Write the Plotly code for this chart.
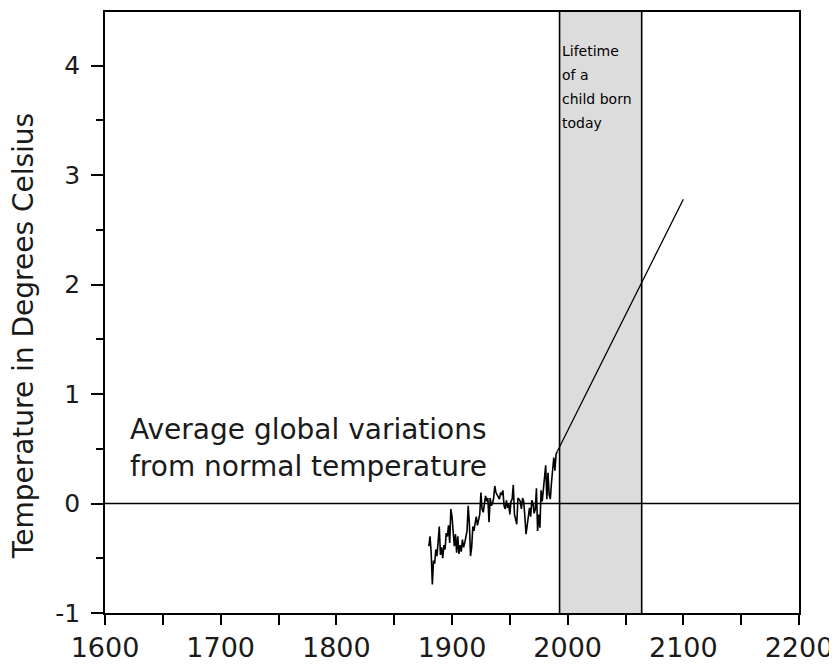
import plotly.graph_objects as go

years = list(range(1880, 1992))
temps = [
    -0.39, -0.30, -0.45, -0.74, -0.52, -0.55, -0.42, -0.48, -0.35, -0.21,
    -0.47, -0.40, -0.50, -0.38, -0.42, -0.27, -0.30, -0.20, -0.36, -0.05,
    -0.12, -0.25, -0.39, -0.28, -0.45, -0.30, -0.46, -0.38, -0.44, -0.33,
    -0.40, -0.36, -0.30, -0.25, -0.02, -0.18, -0.48, -0.40, -0.21, -0.25,
    -0.18, -0.12, -0.20, -0.14, -0.10, 0.10, -0.05, -0.08, -0.02, 0.07,
    0.02, 0.05, -0.17, 0.05, -0.02, 0.00, 0.05, 0.16, 0.10, 0.08,
    0.05, 0.04, 0.10, 0.08, 0.12, -0.02, -0.05, 0.03, -0.04, 0.00,
    -0.10, 0.02, 0.04, 0.17, -0.10, -0.15, -0.19, 0.05, 0.04, 0.02,
    -0.05, 0.05, 0.02, -0.12, -0.28, -0.20, -0.10, -0.04, -0.12, 0.03,
    0.00, -0.09, -0.05, 0.14, -0.25, -0.10, -0.22, 0.12, 0.02, 0.14,
    0.20, 0.35, 0.04, 0.28, 0.08, 0.04, 0.19, 0.32, 0.42, 0.30,
    0.45, 0.475,
]

proj_years = [1991, 2100]
proj_temps = [0.475, 2.78]

lifetime = [1993, 2064]

x_ticks = [1600, 1700, 1800, 1900, 2000, 2100, 2200]
x_labels = ["1600", "1700", "1800", "1900", "2000", "2100", "2200"]
y_ticks = [-1, 0, 1, 2, 3, 4]
y_labels = ["-1", "0", "1", "2", "3", "4"]

lifetime_lines = ["Lifetime", "of a", "child born", "today"]
note_lines = ["Average global variations", "from normal temperature"]
y_title = "Temperature in Degrees Celsius"

FONT = "DejaVu Sans, sans-serif"
TXT = "#1a1a1a"

fig = go.Figure()
fig.add_trace(go.Scatter(x=years, y=temps, mode="lines",
                         line=dict(color="black", width=1.6), showlegend=False))
fig.add_trace(go.Scatter(x=proj_years, y=proj_temps, mode="lines",
                         line=dict(color="black", width=1.3), showlegend=False))

shapes = [
    dict(type="rect", xref="x", yref="paper", x0=lifetime[0], x1=lifetime[1],
         y0=0, y1=1, fillcolor="#dcdcdc", line=dict(width=0), layer="below"),
    dict(type="line", xref="x", yref="paper", x0=lifetime[0], x1=lifetime[0],
         y0=0, y1=1, line=dict(color="black", width=1.6)),
    dict(type="line", xref="x", yref="paper", x0=lifetime[1], x1=lifetime[1],
         y0=0, y1=1, line=dict(color="black", width=1.6)),
    dict(type="line", xref="paper", yref="y", x0=0, x1=1, y0=0, y1=0,
         line=dict(color="black", width=1.6)),
]

annotations = []
for i, t in enumerate(lifetime_lines):
    annotations.append(dict(x=lifetime[0], y=4.13 - i * 0.218, xref="x", yref="y",
                            text=t, showarrow=False, xanchor="left", yanchor="middle",
                            xshift=0, font=dict(family=FONT, size=14, color="black")))
for i, t in enumerate(note_lines):
    annotations.append(dict(x=1620, y=0.68 - i * 0.345, xref="x", yref="y",
                            text=t, showarrow=False, xanchor="left", yanchor="middle",
                            font=dict(family=FONT, size=28, color=TXT)))
annotations.append(dict(x=-0.118, y=1.53, xref="paper", yref="y", text=y_title,
                        textangle=-90, showarrow=False, xanchor="center", yanchor="middle",
                        font=dict(family=FONT, size=28, color=TXT)))

fig.update_layout(
    width=829, height=657,
    margin=dict(l=97, r=38, t=2, b=51),
    plot_bgcolor="white", paper_bgcolor="white",
    shapes=shapes, annotations=annotations,
    font=dict(family=FONT, color=TXT),
)
fig.update_xaxes(range=[1600, 2200], tickvals=x_ticks, ticktext=x_labels,
                 ticks="outside", ticklen=10,
                 tickwidth=1.6, tickcolor="black", showline=True, linecolor="black",
                 linewidth=1.6, mirror=True, showgrid=False, zeroline=False,
                 tickfont=dict(size=27, family=FONT, color=TXT),
                 minor=dict(dtick=50, ticks="outside", ticklen=10, tickwidth=1.6,
                            tickcolor="black", showgrid=False))
fig.update_yaxes(range=[-1, 4.49], tickvals=y_ticks, ticktext=y_labels,
                 ticks="outside", ticklen=12, ticklabelstandoff=6,
                 tickwidth=1.6, tickcolor="black", showline=True, linecolor="black",
                 linewidth=1.6, mirror=True, showgrid=False, zeroline=False,
                 tickfont=dict(size=25, family=FONT, color=TXT),
                 minor=dict(dtick=0.5, ticks="outside", ticklen=7, tickwidth=1.6,
                            tickcolor="black", showgrid=False))

fig.write_html("out.html")
